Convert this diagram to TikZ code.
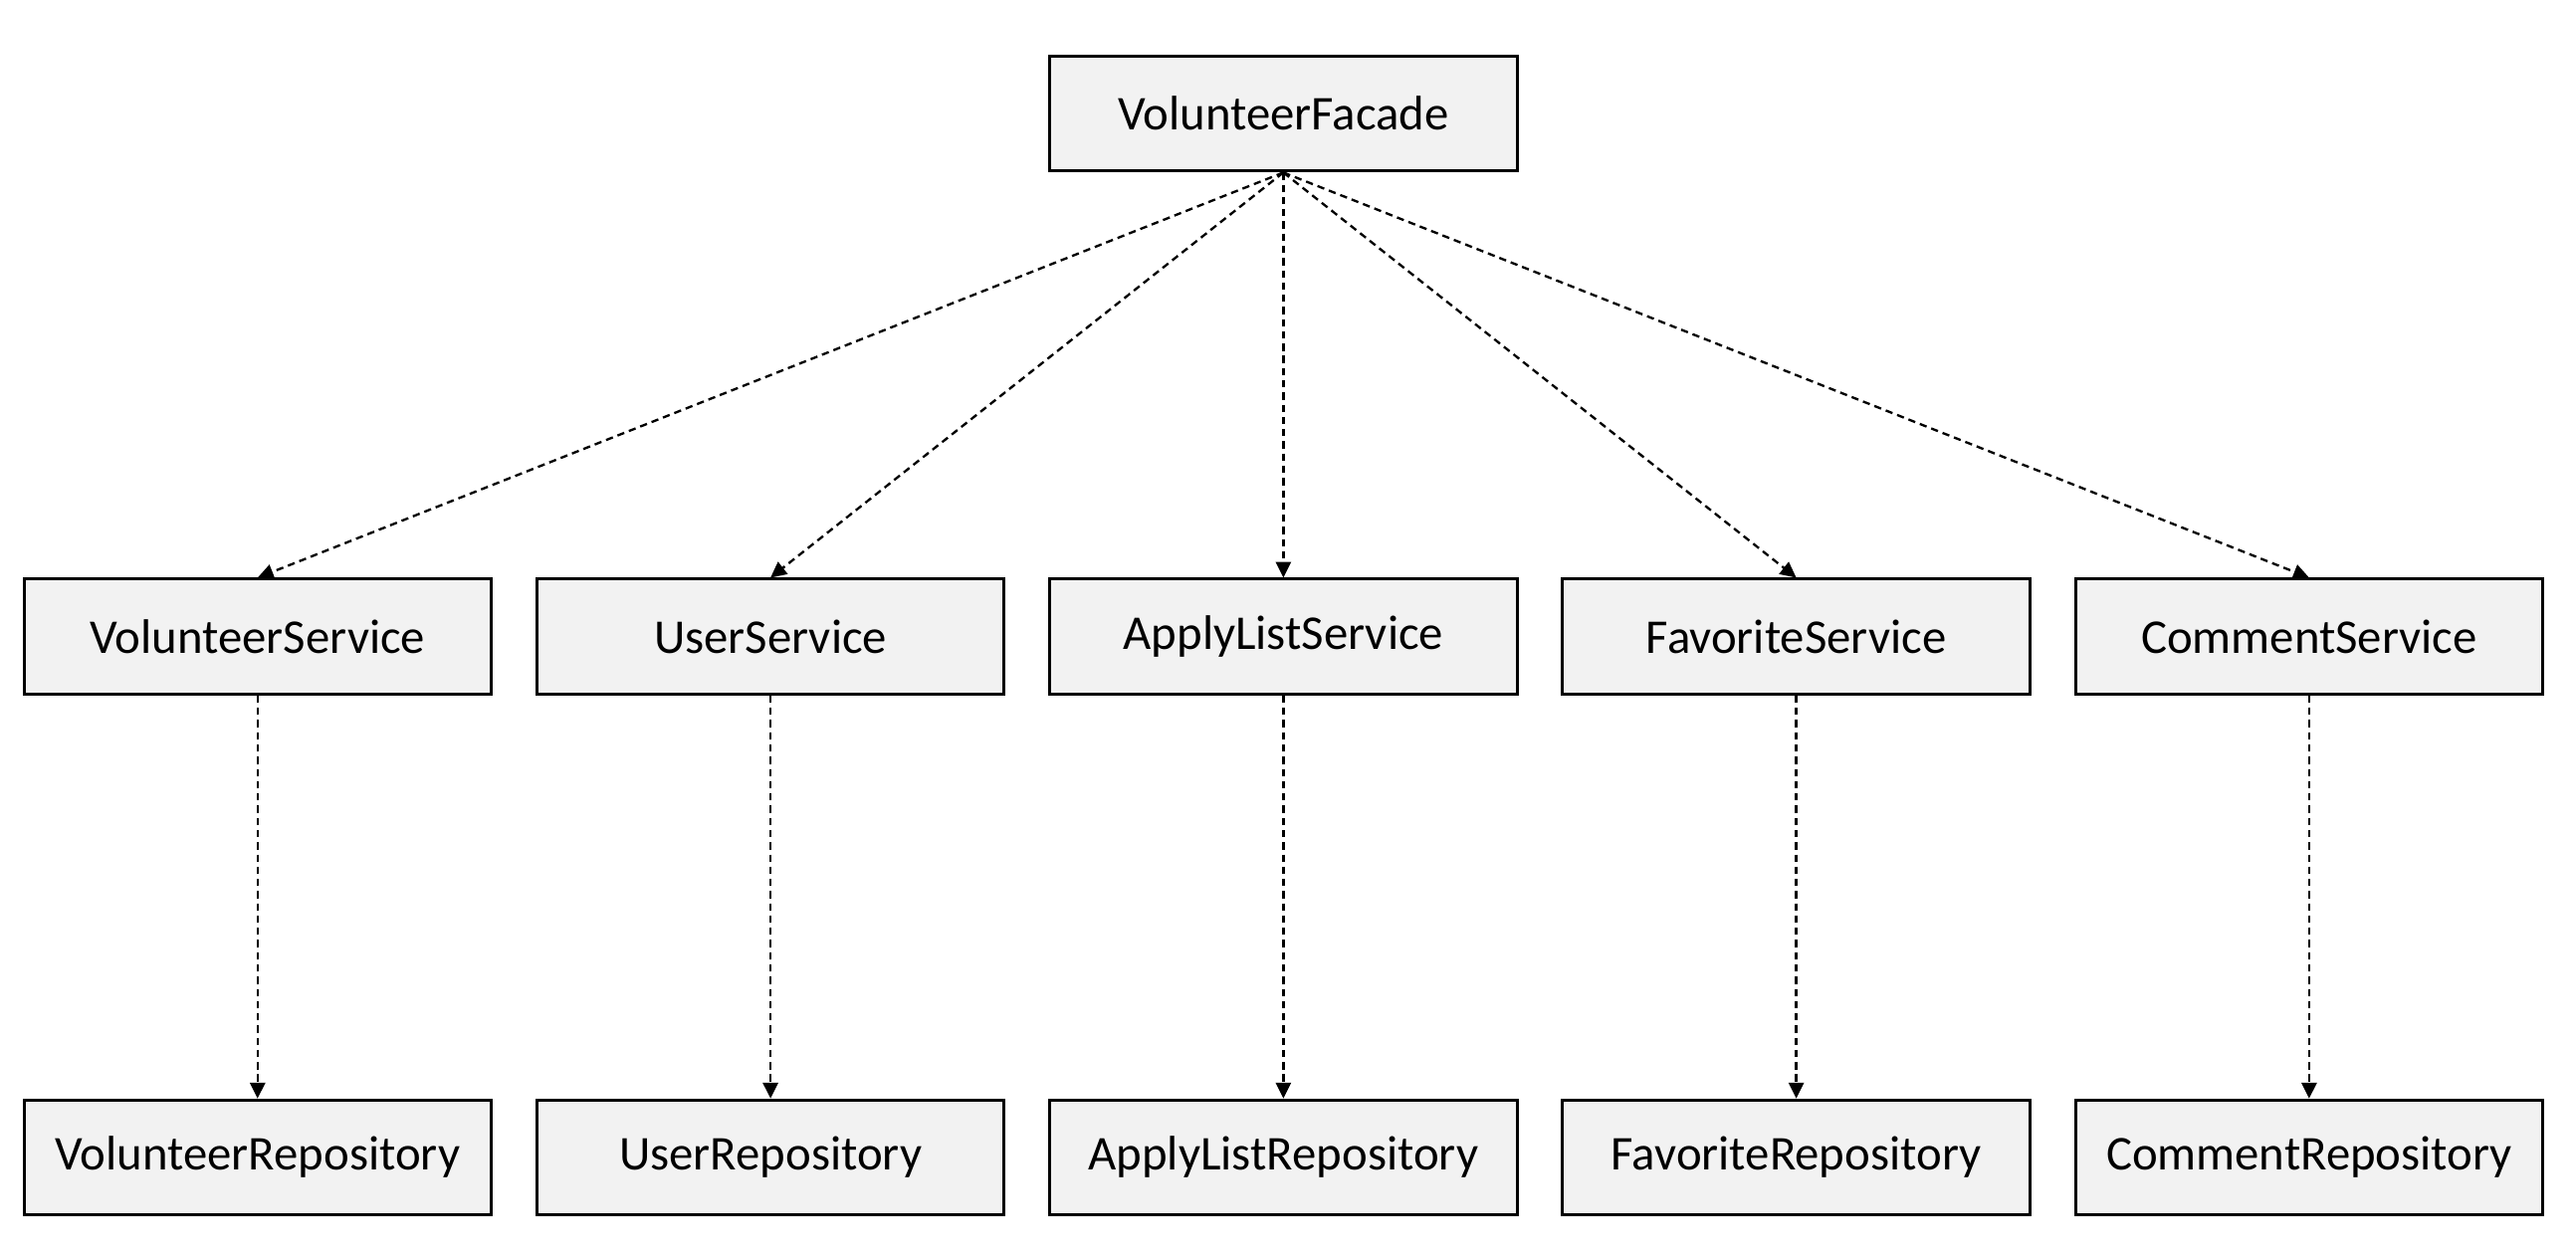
\documentclass[tikz,border=0pt]{standalone}
\usepackage{fontspec}
\setmainfont{Carlito}
\usepackage{tikz}
\usetikzlibrary{positioning}
\usetikzlibrary{arrows.meta}
\definecolor{boxgray}{HTML}{F2F2F2}
\tikzset{
    every picture/.append style={
        >={Triangle[length=4.8pt,width=4.6pt]}
    }
}
\tikzset{
    classbox/.style={shape=rectangle,draw=black,fill=boxgray,line width=0.9pt,
        minimum width=141.5pt,minimum height=34.8pt,inner sep=0pt,
        font=\fontsize{14.7}{17}\selectfont},
    dep/.style={->,line width=0.7pt,dash pattern=on 2.2pt off 1.5pt},
}
\begin{document}
\begin{tikzpicture}[node distance=122.7pt and 12.9pt]
		\useasboundingbox (0,0) rectangle (780pt,-381.5pt);
		\node[classbox] (VF) at (388.6pt,-34.4pt) {VolunteerFacade};
		
		\node[classbox, below=of VF] (AS) {ApplyListService};
		\node[classbox, left=of AS] (US) {UserService};
		\node[classbox, left=of US] (VS) {VolunteerService};
		\node[classbox, right=of AS] (FS) {FavoriteService};
		\node[classbox, right=of FS] (CS) {CommentService};
		
		\node[classbox, below=122pt of VS] (VR) {VolunteerRepository};
		\node[classbox, below=122pt of US] (UR) {UserRepository};
		\node[classbox, below=122pt of AS] (AR) {ApplyListRepository};
		\node[classbox, below=122pt of FS] (FR) {FavoriteRepository};
		\node[classbox, below=122pt of CS] (CR) {CommentRepository};
		
		\path [dep] (VF.south) edge (VS.north);
		\path [dep] (VF.south) edge (US.north);
		\path [dep] (VF.south) edge (AS.north);
		\path [dep] (VF.south) edge (FS.north);
		\path [dep] (VF.south) edge (CS.north);
		\path [dep] (VS) edge (VR);
		\path [dep] (US) edge (UR);
		\path [dep] (AS) edge (AR);
		\path [dep] (FS) edge (FR);
		\path [dep] (CS) edge (CR);
		\end{tikzpicture}
\end{document}
